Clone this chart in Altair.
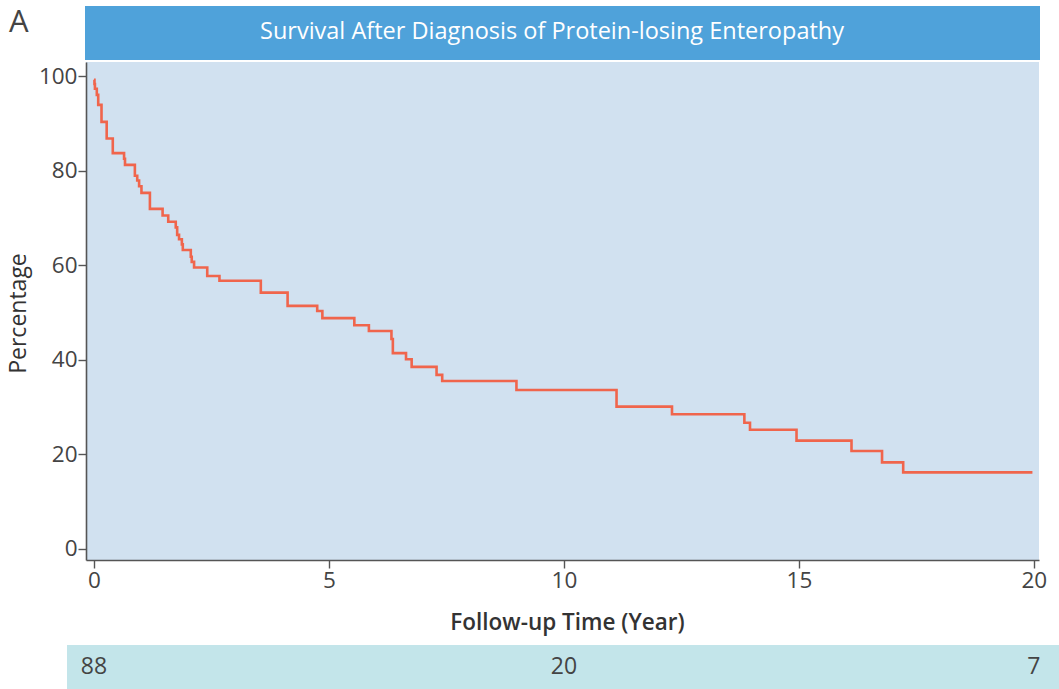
import altair as alt
import pandas as pd

# Kaplan-Meier style survival curve
years = [0.00, 0.01, 0.02, 0.06, 0.09, 0.16, 0.27, 0.40, 0.64, 0.66, 0.87, 0.92,
         0.96, 1.01, 1.19, 1.46, 1.58, 1.74, 1.77, 1.81, 1.87, 1.89, 2.06, 2.08,
         2.13, 2.41, 2.67, 3.55, 4.12, 4.75, 4.86, 5.54, 5.85, 6.33, 6.36, 6.64,
         6.76, 7.29, 7.41, 8.99, 11.12, 12.30, 13.84, 13.96, 14.95, 16.12, 16.77,
         17.22, 19.97]
percent = [99.2, 98.3, 97.3, 96.0, 93.9, 90.3, 86.8, 83.7, 82.5, 81.2, 78.9, 77.9,
           76.7, 75.3, 71.9, 70.5, 69.2, 68.0, 66.4, 65.5, 64.4, 63.2, 61.8, 60.7,
           59.5, 57.7, 56.7, 54.2, 51.4, 50.3, 48.8, 47.3, 46.1, 44.4, 41.4, 40.1,
           38.5, 36.8, 35.5, 33.6, 30.1, 28.5, 26.7, 25.2, 22.9, 20.7, 18.3,
           16.2, 16.2]

# Number at risk
risk_years = [0, 10, 20]
risk_counts = ["88", "20", "7"]

x_ticks = [0, 5, 10, 15, 20]
y_ticks = [0, 20, 40, 60, 80, 100]

title_text = "Survival After Diagnosis of Protein-losing Enteropathy"
panel_label = "A"
x_title = "Follow-up Time (Year)"
y_title = "Percentage"

W, H = 953, 498
FONT = "Open Sans"
TXT = "#444444"

curve = pd.DataFrame({"t": years, "s": percent})
risk = pd.DataFrame({"t": risk_years, "n": risk_counts})

xscale = alt.Scale(domain=[-0.17, 20.11], nice=False, zero=False)
yscale = alt.Scale(domain=[-2.33, 102.96], nice=False, zero=False)

line = alt.Chart(curve).mark_line(
    interpolate="step-after", color="#F0654C", strokeWidth=2.6
).encode(
    x=alt.X("t:Q", scale=xscale,
            axis=alt.Axis(values=x_ticks, title=x_title, titleX=481, titleY=62,
                          titleAlign="center", titleBaseline="middle",
                          titleFontSize=22.5, titleFontWeight=600)),
    y=alt.Y("s:Q", scale=yscale,
            axis=alt.Axis(values=y_ticks, title=y_title, titleX=-68, titleY=251,
                          titleAngle=270, titleAlign="center",
                          titleBaseline="middle", titleFontSize=23,
                          titleFontWeight=500)),
)

# Title banner above the plot
banner = alt.Chart(pd.DataFrame({"k": [title_text]})).mark_rect(
    color="#4FA2DA"
).encode(x=alt.value(-1), x2=alt.value(W + 1), y=alt.value(-56), y2=alt.value(-2))

banner_text = alt.Chart(pd.DataFrame({"k": [title_text]})).mark_text(
    color="white", fontSize=23.5, font=FONT, align="center", baseline="middle"
).encode(text="k:N", x=alt.value(466), y=alt.value(-30))

label_a = alt.Chart(pd.DataFrame({"k": [panel_label]})).mark_text(
    color=TXT, fontSize=31, font=FONT, fontWeight=500, align="left", baseline="middle"
).encode(text="k:N", x=alt.value(-77), y=alt.value(-39))

# Risk table band
band = alt.Chart(pd.DataFrame({"k": ["band"]})).mark_rect(
    color="#C3E5EA"
).encode(x=alt.value(-19), x2=alt.value(W + 20), y=alt.value(583), y2=alt.value(627))

risk_text = alt.Chart(risk).mark_text(
    color=TXT, fontSize=23, font=FONT, align="center", baseline="middle"
).encode(x=alt.X("t:Q", scale=xscale), y=alt.value(605), text="n:N")

chart = alt.layer(banner, banner_text, label_a, band, risk_text, line).properties(
    width=W, height=H,
    autosize=alt.AutoSizeParams(type="none"),
    padding={"left": 86, "top": 62, "right": 20, "bottom": 129},
).configure_view(
    fill="#D1E1F0", stroke=None
).configure_axis(
    grid=False, domainColor="#555555", domainWidth=1.6, tickColor="#555555",
    tickWidth=1.4, tickSize=8, labelFont=FONT, labelFontSize=22.5,
    labelColor=TXT, titleFont=FONT, titleColor="#333333", labelPadding=1
)

chart.save("out.html", embed_options={"renderer": "svg", "actions": False})
